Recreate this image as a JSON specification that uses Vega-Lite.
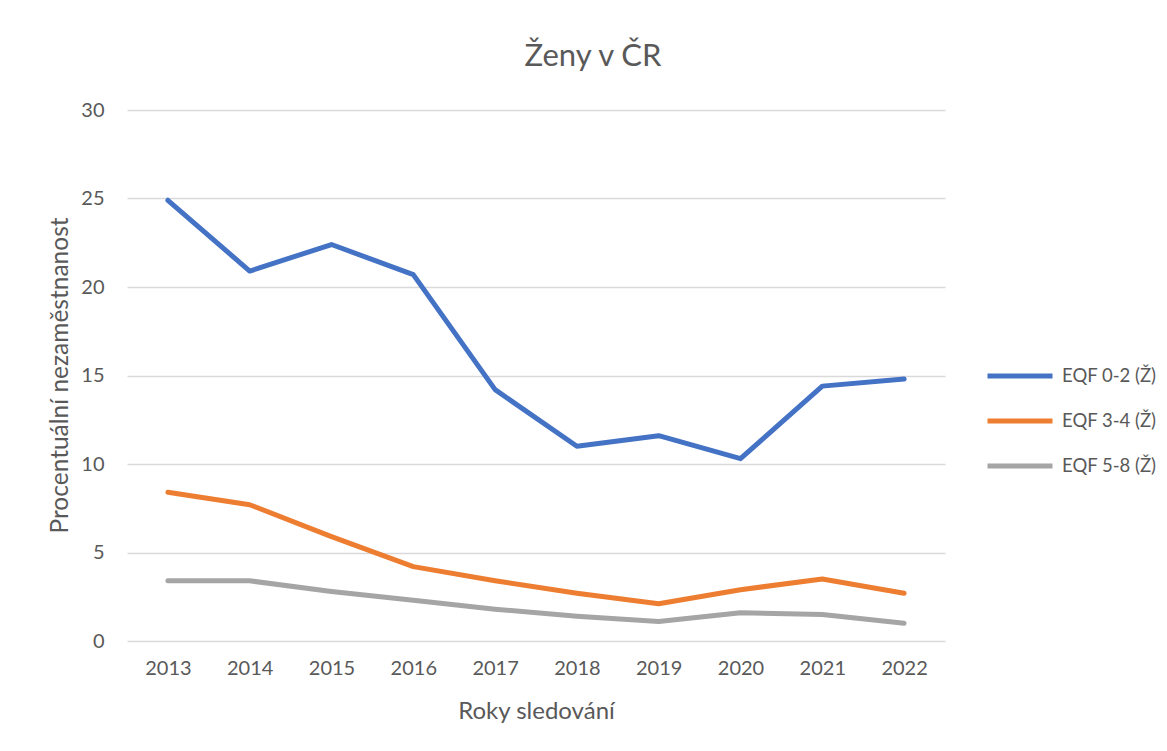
{
  "$schema": "https://vega.github.io/schema/vega-lite/v6.json",
  "width": 818,
  "height": 531,
  "autosize": {"type": "none"},
  "padding": {"left": 127, "top": 110, "right": 222, "bottom": 110},
  "background": "white",
  "config": {
    "font": "Lato",
    "view": {"stroke": null}
  },
  "title": {
    "text": "Ženy v ČR",
    "fontSize": 31,
    "font": "Lato",
    "fontWeight": "normal",
    "color": "#595959",
    "anchor": "middle",
    "dx": 57,
    "baseline": "alphabetic",
    "offset": 3
  },
  "data": {
    "values": [
      {"rok": "2013", "skupina": "EQF 0-2 (Ž)", "hodnota": 24.9},
      {"rok": "2014", "skupina": "EQF 0-2 (Ž)", "hodnota": 20.9},
      {"rok": "2015", "skupina": "EQF 0-2 (Ž)", "hodnota": 22.4},
      {"rok": "2016", "skupina": "EQF 0-2 (Ž)", "hodnota": 20.7},
      {"rok": "2017", "skupina": "EQF 0-2 (Ž)", "hodnota": 14.2},
      {"rok": "2018", "skupina": "EQF 0-2 (Ž)", "hodnota": 11.0},
      {"rok": "2019", "skupina": "EQF 0-2 (Ž)", "hodnota": 11.6},
      {"rok": "2020", "skupina": "EQF 0-2 (Ž)", "hodnota": 10.3},
      {"rok": "2021", "skupina": "EQF 0-2 (Ž)", "hodnota": 14.4},
      {"rok": "2022", "skupina": "EQF 0-2 (Ž)", "hodnota": 14.8},
      {"rok": "2013", "skupina": "EQF 3-4 (Ž)", "hodnota": 8.4},
      {"rok": "2014", "skupina": "EQF 3-4 (Ž)", "hodnota": 7.7},
      {"rok": "2015", "skupina": "EQF 3-4 (Ž)", "hodnota": 5.9},
      {"rok": "2016", "skupina": "EQF 3-4 (Ž)", "hodnota": 4.2},
      {"rok": "2017", "skupina": "EQF 3-4 (Ž)", "hodnota": 3.4},
      {"rok": "2018", "skupina": "EQF 3-4 (Ž)", "hodnota": 2.7},
      {"rok": "2019", "skupina": "EQF 3-4 (Ž)", "hodnota": 2.1},
      {"rok": "2020", "skupina": "EQF 3-4 (Ž)", "hodnota": 2.9},
      {"rok": "2021", "skupina": "EQF 3-4 (Ž)", "hodnota": 3.5},
      {"rok": "2022", "skupina": "EQF 3-4 (Ž)", "hodnota": 2.7},
      {"rok": "2013", "skupina": "EQF 5-8 (Ž)", "hodnota": 3.4},
      {"rok": "2014", "skupina": "EQF 5-8 (Ž)", "hodnota": 3.4},
      {"rok": "2015", "skupina": "EQF 5-8 (Ž)", "hodnota": 2.8},
      {"rok": "2016", "skupina": "EQF 5-8 (Ž)", "hodnota": 2.3},
      {"rok": "2017", "skupina": "EQF 5-8 (Ž)", "hodnota": 1.8},
      {"rok": "2018", "skupina": "EQF 5-8 (Ž)", "hodnota": 1.4},
      {"rok": "2019", "skupina": "EQF 5-8 (Ž)", "hodnota": 1.1},
      {"rok": "2020", "skupina": "EQF 5-8 (Ž)", "hodnota": 1.6},
      {"rok": "2021", "skupina": "EQF 5-8 (Ž)", "hodnota": 1.5},
      {"rok": "2022", "skupina": "EQF 5-8 (Ž)", "hodnota": 1.0}
    ]
  },
  "mark": {"type": "line", "strokeWidth": 5, "strokeCap": "round", "strokeJoin": "round"},
  "encoding": {
    "x": {
      "field": "rok",
      "type": "ordinal",
      "scale": {"type": "point", "padding": 0.5},
      "axis": {
        "title": "Roky sledování",
        "titleFontSize": 24,
        "titleFontWeight": "normal",
        "titleColor": "#595959",
        "titleY": 70,
        "titleBaseline": "middle",
        "labelAngle": 0,
        "labelFontSize": 20,
        "labelColor": "#595959",
        "labelPadding": 17,
        "ticks": false,
        "domain": false,
        "grid": false
      }
    },
    "y": {
      "field": "hodnota",
      "type": "quantitative",
      "scale": {"domain": [0, 30]},
      "axis": {
        "title": "Procentuální nezaměstnanost",
        "titleFontSize": 24.5,
        "titleFontWeight": "normal",
        "titleColor": "#595959",
        "titleX": -67,
        "titleY": 265,
        "titleAngle": -90,
        "titleAlign": "center",
        "titleBaseline": "middle",
        "values": [0, 5, 10, 15, 20, 25, 30],
        "labelFontSize": 20,
        "labelColor": "#595959",
        "labelPadding": 23,
        "ticks": false,
        "domain": false,
        "grid": true,
        "gridColor": "#D9D9D9",
        "gridWidth": 1.3
      }
    },
    "color": {
      "field": "skupina",
      "type": "nominal",
      "scale": {
        "domain": ["EQF 0-2 (Ž)", "EQF 3-4 (Ž)", "EQF 5-8 (Ž)"],
        "range": ["#4472C4", "#ED7D31", "#A5A5A5"]
      },
      "legend": {
        "title": null,
        "orient": "none",
        "legendX": 858,
        "legendY": 231,
        "symbolType": "stroke",
        "symbolSize": 4225,
        "symbolStrokeWidth": 5,
        "labelFontSize": 18.5,
        "labelColor": "#595959",
        "labelOffset": 7,
        "rowPadding": -21
      }
    }
  }
}
